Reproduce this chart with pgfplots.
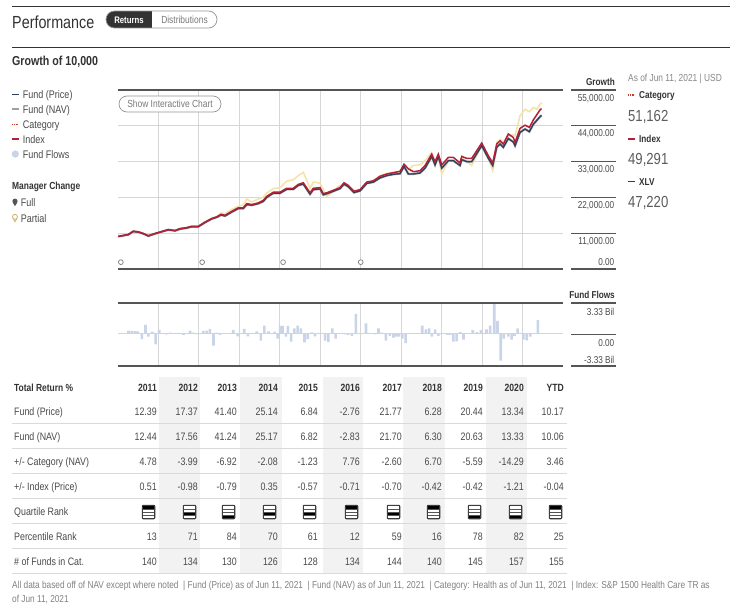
\documentclass[border=0pt]{standalone}
\usepackage{pgfplots}
\pgfplotsset{compat=1.18}
\usepackage{fontspec}
\IfFontExistsTF{Liberation Sans Narrow}{\setmainfont{Liberation Sans Narrow}}{\setmainfont{Liberation Sans}[FakeStretch=0.82]}
\definecolor{cFund}{HTML}{2F3E5A}
\definecolor{cNav}{HTML}{A0A0A0}
\definecolor{cCat}{HTML}{F6E2A4}
\definecolor{cIdx}{HTML}{B3203A}
\definecolor{cFlow}{HTML}{C9D4E8}
\definecolor{cGrid}{HTML}{D6D6D6}
\definecolor{cAxis}{HTML}{555555}
\definecolor{cTxt}{HTML}{4A4A4A}
\definecolor{cLight}{HTML}{7A7A7A}
\definecolor{cDark}{HTML}{333333}
\definecolor{cShade}{HTML}{F2F2F2}
\definecolor{cRule}{HTML}{DADADA}
\definecolor{cPin}{HTML}{C8B46A}
\newcommand\fs[1]{\fontsize{#1}{#1}\selectfont}
\tikzset{lt/.style={anchor=base west, inner sep=0pt, text=cTxt},
         rt/.style={anchor=base east, inner sep=0pt, text=cTxt}}
\newcommand\colR{{157,198,237,278,318,360,402,442,483,524,564}}
\newcommand\trow[2]{\foreach \v [count=\i from 0] in {#2}{%
  \pgfmathsetmacro\xr{\colR[\i]}%
  \node[rt, font=\fs{10.8}] at (\xr,#1) {\v};}}

\begin{document}
\begin{tikzpicture}
\begin{scope}[x=1pt,y=-1pt]
\useasboundingbox (0,0) rectangle (737,608);
\fill[white] (0,0) rectangle (737,608);
% header
\draw[cDark, line width=1pt] (12,6) -- (730,6);
\node[lt, text=cDark, font=\fs{17.5}] at (12,28) {Performance};
\begin{scope}
\clip[rounded corners=8.5pt] (106,11) rectangle (217,28);
\fill[cDark] (106,11) rectangle (152,28);
\end{scope}
\draw[cLight!80, line width=0.7pt, rounded corners=8.5pt] (106,11) rectangle (217,28);
\node[anchor=base, inner sep=0pt, text=white, font=\fs{9.5}\bfseries] at (129,23) {Returns};
\node[anchor=base, inner sep=0pt, text=cLight, font=\fs{10.3}] at (184.5,23) {Distributions};
\draw[cDark, line width=1pt] (12,47) -- (730,47);
\node[lt, text=cDark, font=\fs{13}\bfseries] at (12,65) {Growth of 10,000};
% left legend
\draw[cFund, line width=1.6pt] (12,94.3) -- (18.5,94.3);
\node[lt, font=\fs{11}] at (22.7,98.3) {Fund (Price)};
\draw[cNav, line width=1.6pt] (12,109) -- (18.5,109);
\node[lt, font=\fs{11}] at (22.7,113) {Fund (NAV)};
\draw[cIdx!70!orange, line width=1.1pt, dash pattern=on 0.9pt off 0.9pt] (12,124.3) -- (18.5,124.3);
\node[lt, font=\fs{11}] at (22.7,128.3) {Category};
\draw[cIdx, line width=1.8pt] (12,139.3) -- (18.5,139.3);
\node[lt, font=\fs{11}] at (22.7,143.3) {Index};
\fill[cFlow] (15.3,154) circle (3.6);
\node[lt, font=\fs{11}] at (22.7,158) {Fund Flows};
\node[lt, text=cDark, font=\fs{10.3}\bfseries] at (12,189) {Manager Change};
\fill[cAxis] (15,201.2) circle (2.6);
\fill[cAxis] (12.8,202.5) -- (17.2,202.5) -- (15,206.2) -- cycle;
\node[lt, font=\fs{11}] at (20.7,206.5) {Full};
\draw[cPin, line width=0.8pt] (15,216.8) circle (2.5);
\draw[cPin, line width=0.8pt] (13.3,218.6) -- (15,221.8) -- (16.7,218.6);
\node[lt, font=\fs{11}] at (20.7,222) {Partial};
% right growth tick labels
\node[rt, text=cDark, font=\fs{10}\bfseries] at (615,85.3) {Growth};
\draw[cAxis, line width=2.2pt] (571,90) -- (616,90);
\foreach \yy in {125,161,197,233} {\draw[cAxis, line width=0.8pt] (571,\yy) -- (616,\yy);}
\draw[cAxis, line width=2.2pt] (571,269) -- (616,269);
\node[rt, font=\fs{10}] at (614.5,101) {55,000.00};
\node[rt, font=\fs{10}] at (614.5,136.3) {44,000.00};
\node[rt, font=\fs{10}] at (614.5,172.6) {33,000.00};
\node[rt, font=\fs{10}] at (614.5,208.6) {22,000.00};
\node[rt, font=\fs{10}] at (614.5,244.6) {11,000.00};
\node[rt, font=\fs{10}] at (614.5,265.3) {0.00};
% right panel
\node[lt, text=cLight!90, font=\fs{10.2}] at (628,81.6) {As of Jun 11, 2021 | USD};
\draw[cIdx!70!orange, line width=1.1pt, dash pattern=on 0.9pt off 0.9pt] (628,95) -- (634.5,95);
\node[lt, text=cDark, font=\fs{10}\bfseries] at (639,98.6) {Category};
\node[lt, text=cTxt!90, font=\fs{16}] at (628,121) {51,162};
\draw[cIdx, line width=1.2pt] (628,139) -- (634.5,139);
\node[lt, text=cDark, font=\fs{10}\bfseries] at (639,142.6) {Index};
\node[lt, text=cTxt!90, font=\fs{16}] at (628,164.3) {49,291};
\draw[cFund, line width=1.2pt] (628,181.7) -- (634.5,181.7);
\node[lt, text=cDark, font=\fs{10}\bfseries] at (639,185.3) {XLV};
\node[lt, text=cTxt!90, font=\fs{16}] at (628,207.3) {47,220};
% fund flows right labels
\node[rt, text=cDark, font=\fs{10}\bfseries] at (615,298) {Fund Flows};
\draw[cAxis, line width=2.2pt] (571,303) -- (616,303);
\draw[cAxis, line width=0.8pt] (571,334) -- (616,334);
\draw[cAxis, line width=2.2pt] (571,366) -- (616,366);
\node[rt, font=\fs{10}] at (614.5,315.3) {3.33 Bil};
\node[rt, font=\fs{10}] at (614.5,346) {0.00};
\node[rt, font=\fs{10}] at (614.5,363.6) {-3.33 Bil};
% table shading
\foreach \a/\b in {159/200,240/282,323/363,403/445,486/527} {\fill[cShade] (\a,377) rectangle (\b,573);}
\foreach \yy in {423.3,448.3,473.3,498.3,523.3,548.3,573.3} {\draw[cRule, line width=0.8pt] (12,\yy) -- (567,\yy);}
% table header
\node[lt, text=cDark, font=\fs{10.3}\bfseries] at (14,391.8) {Total Return \%};
\foreach \v [count=\i from 0] in {2011,2012,2013,2014,2015,2016,2017,2018,2019,2020,YTD}{%
  \pgfmathsetmacro\xr{\colR[\i]}%
  \node[rt, text=cDark, font=\fs{10.5}\bfseries] at (\xr,391.8) {\v};}
\node[lt, font=\fs{10.8}] at (14,415.6) {Fund (Price)};
\node[lt, font=\fs{10.8}] at (14,440.6) {Fund (NAV)};
\node[lt, font=\fs{10.8}] at (14,465.6) {+/- Category (NAV)};
\node[lt, font=\fs{10.8}] at (14,490.6) {+/- Index (Price)};
\node[lt, font=\fs{10.8}] at (14,515.6) {Quartile Rank};
\node[lt, font=\fs{10.8}] at (14,540.6) {Percentile Rank};
\node[lt, font=\fs{10.8}] at (14,565.6) {\# of Funds in Cat.};
\trow{415.6}{12.39,17.37,41.40,25.14,6.84,-2.76,21.77,6.28,20.44,13.34,10.17}
\trow{440.6}{12.44,17.56,41.24,25.17,6.82,-2.83,21.70,6.30,20.63,13.33,10.06}
\trow{465.6}{4.78,-3.99,-6.92,-2.08,-1.23,7.76,-2.60,6.70,-5.59,-14.29,3.46}
\trow{490.6}{0.51,-0.98,-0.79,0.35,-0.57,-0.71,-0.70,-0.42,-0.42,-1.21,-0.04}
\trow{540.6}{13,71,84,70,61,12,59,16,78,82,25}
\trow{565.6}{140,134,130,126,128,134,144,140,145,157,155}
% quartile icons
\foreach \q [count=\i from 0] in {1,3,4,3,3,1,3,1,4,4,1}{%
  \pgfmathsetmacro\xc{\colR[\i]-8.5}%
  \foreach \k in {1,2,3,4}{%
    \ifnum\k=\q \def\bandfill{black}\else\def\bandfill{white}\fi
    \filldraw[draw=cAxis, fill=\bandfill, line width=0.5pt] (\xc-6,505.5+3.25*\k-3.25) rectangle (\xc+6,505.5+3.25*\k);}
  \draw[cDark, line width=0.9pt, rounded corners=1.2pt] (\xc-6.3,505.2) rectangle (\xc+6.3,518.8);}
% footer
\node[lt, text=cLight!95, font=\fs{10.1}] at (12,588) {All data based off of NAV except where noted \ | Fund (Price) as of Jun 11, 2021 \ | Fund (NAV) as of Jun 11, 2021 \ | Category: Health as of Jun 11, 2021 \ | Index: S\&P 1500 Health Care TR as};
\node[lt, text=cLight!95, font=\fs{10.1}] at (12,602) {of Jun 11, 2021};
\end{scope}

% ---------------- growth chart
\begin{axis}[
  at={(118pt,-269pt)}, anchor=south west,
  scale only axis, width=445pt, height=179pt,
  xmin=2011, xmax=2022, ymin=0, ymax=55000,
  xtick={2012,2013,...,2021}, ytick={11000,22000,33000,44000},
  scaled ticks=false, xticklabels={}, yticklabels={},
  ticklabel style={opacity=0},
  major tick length=0pt,
  grid=major, grid style={cGrid, line width=0.9pt},
  axis line style={draw=none},
  clip=false,
]
\addplot[cCat, line width=1.5pt, mark=none] coordinates {
(2011.007,10000) (2011.255,10700) (2011.378,11700) (2011.502,11500) (2011.625,10900) (2011.749,10300) (2011.915,10700) (2012.080,11500) (2012.244,12100) (2012.409,11900) (2012.533,12500) (2012.698,12800) (2012.822,13200) (2012.985,13200) (2013.151,14400) (2013.316,15500) (2013.440,16100) (2013.546,17200) (2013.645,17000) (2013.811,18300) (2013.974,19300) (2014.098,19700) (2014.182,21500) (2014.305,20600) (2014.468,21500) (2014.592,22100) (2014.676,23300) (2014.839,24700) (2015.005,25000) (2015.171,27000) (2015.334,27400) (2015.457,28700) (2015.581,29700) (2015.747,24800) (2015.828,26700) (2015.994,26400) (2016.160,22300) (2016.240,23000) (2016.365,24400) (2016.488,25700) (2016.587,25600) (2016.693,25400) (2016.834,23300) (2016.983,24300) (2017.148,26700) (2017.312,27200) (2017.477,28600) (2017.643,29300) (2017.806,29700) (2017.972,30100) (2018.071,31800) (2018.177,30500) (2018.300,31800) (2018.466,32000) (2018.590,33300) (2018.755,35800) (2018.837,31800) (2018.918,34300) (2019.003,29200) (2019.166,33300) (2019.289,33300) (2019.455,31800) (2019.497,34300) (2019.621,33000) (2019.744,31800) (2019.991,38100) (2020.155,34000) (2020.263,30200) (2020.362,38900) (2020.444,39800) (2020.525,39000) (2020.649,40900) (2020.773,41200) (2020.815,40900) (2020.938,47100) (2021.062,49100) (2021.168,48300) (2021.267,49600) (2021.350,49100) (2021.470,51162)};
\addplot[cNav, line width=2.2pt, mark=none] coordinates {
(2011.007,10000) (2011.255,10550) (2011.378,11550) (2011.502,11350) (2011.625,10850) (2011.749,10150) (2011.915,10850) (2012.080,11450) (2012.244,12050) (2012.409,11750) (2012.533,12300) (2012.698,12600) (2012.822,13000) (2012.985,13000) (2013.151,14300) (2013.316,15400) (2013.440,15900) (2013.546,16600) (2013.645,16300) (2013.811,17500) (2013.974,18600) (2014.098,18600) (2014.182,19800) (2014.305,19600) (2014.468,20100) (2014.592,20800) (2014.676,22000) (2014.839,23300) (2015.005,23300) (2015.171,24500) (2015.334,24500) (2015.457,25700) (2015.581,26100) (2015.747,23000) (2015.828,24400) (2015.994,24600) (2016.075,22800) (2016.199,23300) (2016.365,24100) (2016.488,24700) (2016.587,26100) (2016.693,25300) (2016.834,23500) (2016.983,24000) (2017.148,26300) (2017.312,26700) (2017.477,28000) (2017.643,28700) (2017.806,29100) (2017.972,29300) (2018.071,31500) (2018.177,29200) (2018.300,29200) (2018.466,29500) (2018.590,31000) (2018.755,34600) (2018.837,32000) (2018.918,34600) (2019.003,31000) (2019.166,33300) (2019.289,33300) (2019.455,31800) (2019.497,33600) (2019.621,33000) (2019.744,33000) (2019.991,37900) (2020.155,34000) (2020.263,31800) (2020.362,37400) (2020.444,38400) (2020.525,37400) (2020.649,40100) (2020.773,39000) (2020.815,37900) (2020.938,42000) (2021.062,43000) (2021.168,42200) (2021.267,44500) (2021.433,46800) (2021.470,47220)};
\addplot[cFund, line width=1.3pt, mark=none] coordinates {
(2011.007,10000) (2011.255,10550) (2011.378,11550) (2011.502,11350) (2011.625,10850) (2011.749,10150) (2011.915,10850) (2012.080,11450) (2012.244,12050) (2012.409,11750) (2012.533,12300) (2012.698,12600) (2012.822,13000) (2012.985,13000) (2013.151,14300) (2013.316,15400) (2013.440,15900) (2013.546,16600) (2013.645,16300) (2013.811,17500) (2013.974,18600) (2014.098,18600) (2014.182,19800) (2014.305,19600) (2014.468,20100) (2014.592,20800) (2014.676,22000) (2014.839,23300) (2015.005,23300) (2015.171,24500) (2015.334,24500) (2015.457,25700) (2015.581,26100) (2015.747,23000) (2015.828,24400) (2015.994,24600) (2016.075,22800) (2016.199,23300) (2016.365,24100) (2016.488,24700) (2016.587,26100) (2016.693,25300) (2016.834,23500) (2016.983,24000) (2017.148,26300) (2017.312,26700) (2017.477,28000) (2017.643,28700) (2017.806,29100) (2017.972,29300) (2018.071,31500) (2018.177,29200) (2018.300,29200) (2018.466,29500) (2018.590,31000) (2018.755,34600) (2018.837,32000) (2018.918,34600) (2019.003,31000) (2019.166,33300) (2019.289,33300) (2019.455,31800) (2019.497,33600) (2019.621,33000) (2019.744,33000) (2019.991,37900) (2020.155,34000) (2020.263,31800) (2020.362,37400) (2020.444,38400) (2020.525,37400) (2020.649,40100) (2020.773,39000) (2020.815,37900) (2020.938,42000) (2021.062,43000) (2021.168,42200) (2021.267,44500) (2021.433,46800) (2021.470,47220)};
\addplot[cIdx, line width=1.5pt, mark=none] coordinates {
(2011.007,10000) (2011.255,10600) (2011.378,11600) (2011.502,11400) (2011.625,10900) (2011.749,10200) (2011.915,10900) (2012.080,11500) (2012.244,12100) (2012.409,11800) (2012.533,12400) (2012.698,12700) (2012.822,13100) (2012.985,13100) (2013.151,14400) (2013.316,15500) (2013.440,16000) (2013.546,16800) (2013.645,16500) (2013.811,17700) (2013.974,18800) (2014.098,18800) (2014.182,20100) (2014.305,19800) (2014.468,20300) (2014.592,21100) (2014.676,22300) (2014.839,23600) (2015.005,23600) (2015.171,24800) (2015.334,24800) (2015.457,26000) (2015.581,26500) (2015.747,23400) (2015.828,24800) (2015.994,25000) (2016.075,23100) (2016.199,23600) (2016.365,24400) (2016.488,25000) (2016.587,26500) (2016.693,25700) (2016.834,23900) (2016.983,24400) (2017.148,26700) (2017.312,27100) (2017.477,28500) (2017.643,29200) (2017.806,29600) (2017.972,30000) (2018.071,32200) (2018.177,30800) (2018.300,29900) (2018.466,30200) (2018.590,31800) (2018.755,35300) (2018.837,33000) (2018.918,35300) (2019.003,32000) (2019.166,34300) (2019.289,34300) (2019.455,32600) (2019.497,34600) (2019.621,34000) (2019.744,34000) (2019.991,38700) (2020.155,34800) (2020.263,32600) (2020.362,38400) (2020.444,39400) (2020.525,38400) (2020.649,41500) (2020.773,40400) (2020.815,38900) (2020.938,43200) (2021.062,44200) (2021.168,43500) (2021.267,45800) (2021.433,48900) (2021.470,49291)};
\addplot[only marks, mark=*, mark size=2.4pt, mark options={fill=white, draw=cLight, line width=0.7pt}] coordinates {(2011.07,2100) (2013.08,2100) (2015.08,2100) (2017.00,2100)};
\draw[cAxis, line width=2.2pt] (rel axis cs:0,1) -- (rel axis cs:1,1);
\draw[cAxis, line width=2.2pt] (rel axis cs:0,0) -- (rel axis cs:1,0);
\end{axis}

% ---------------- fund flows
\begin{axis}[
  at={(118pt,-366pt)}, anchor=south west,
  scale only axis, width=445pt, height=63pt,
  xmin=2011, xmax=2022, ymin=-3.45, ymax=3.33,
  xtick={2012,2013,...,2021}, ytick={0},
  scaled ticks=false, xticklabels={}, yticklabels={},
  ticklabel style={opacity=0},
  major tick length=0pt,
  grid=major, grid style={cGrid, line width=0.9pt},
  axis line style={draw=none},
  clip=false,
]
\addplot[ybar, bar width=2.6pt, fill=cFlow, draw=none] coordinates {
(2011.26,0.36) (2011.34,0.33) (2011.42,0.30) (2011.49,0.28) (2011.59,-0.57) (2011.68,0.97) (2011.75,-0.29) (2011.85,0.25) (2011.93,-1.11) (2012.02,0.43) (2012.12,0.10) (2012.20,-0.05) (2012.29,0.15) (2012.37,0.05) (2012.45,0.12) (2012.53,0.10) (2012.62,-0.10) (2012.70,0.08) (2012.78,0.35) (2012.86,0.15) (2012.95,-0.05) (2013.03,0.10) (2013.11,0.32) (2013.19,0.35) (2013.27,0.54) (2013.36,-1.25) (2013.44,0.15) (2013.52,-0.10) (2013.60,0.05) (2013.69,0.03) (2013.77,0.05) (2013.85,0.43) (2013.96,-0.25) (2014.04,0.05) (2014.12,0.54) (2014.21,-0.25) (2014.32,0.10) (2014.43,0.29) (2014.53,-0.72) (2014.62,0.90) (2014.72,0.29) (2014.80,0.05) (2014.87,0.25) (2014.95,-0.50) (2015.01,0.86) (2015.07,0.86) (2015.15,-0.30) (2015.20,0.86) (2015.28,-0.82) (2015.36,0.61) (2015.44,0.90) (2015.52,0.60) (2015.61,-0.90) (2015.69,-0.57) (2015.79,0.18) (2015.87,-0.25) (2015.95,0.05) (2016.02,0.10) (2016.12,-0.72) (2016.20,-0.86) (2016.30,0.60) (2016.38,-0.50) (2016.46,0.05) (2016.53,0.10) (2016.61,-0.05) (2016.69,-0.10) (2016.78,-0.20) (2016.88,2.15) (2016.98,0.05) (2017.05,0.03) (2017.13,1.15) (2017.19,0.05) (2017.27,0.03) (2017.36,-0.05) (2017.44,0.61) (2017.52,0.15) (2017.62,-0.72) (2017.72,-0.20) (2017.81,-0.40) (2017.88,-0.30) (2017.95,-0.30) (2018.03,-0.50) (2018.11,-1.00) (2018.22,0.05) (2018.30,0.05) (2018.37,0.10) (2018.44,0.05) (2018.52,0.90) (2018.61,0.50) (2018.69,0.60) (2018.76,-0.30) (2018.84,0.50) (2018.92,-0.20) (2019.00,0.05) (2019.08,0.05) (2019.14,-0.10) (2019.21,-0.10) (2019.29,-0.82) (2019.37,-0.80) (2019.46,0.20) (2019.54,-0.60) (2019.61,0.05) (2019.68,0.10) (2019.77,0.40) (2019.87,0.20) (2019.97,0.40) (2020.04,0.10) (2020.11,0.50) (2020.20,0.90) (2020.30,3.30) (2020.38,1.40) (2020.46,-2.86) (2020.54,-0.50) (2020.65,-0.30) (2020.73,-0.60) (2020.80,-0.20) (2020.88,0.60) (2020.95,0.10) (2021.02,-0.60) (2021.10,-0.70) (2021.19,-0.30) (2021.27,0.05) (2021.38,1.50)};
\draw[cAxis, line width=2.2pt] (rel axis cs:0,1) -- (rel axis cs:1,1);
\draw[cAxis, line width=2.2pt] (rel axis cs:0,0) -- (rel axis cs:1,0);
\end{axis}

\begin{scope}[x=1pt,y=-1pt]
\draw[cLight!80, line width=0.7pt, rounded corners=8pt, fill=white] (119,96) rectangle (221,112);
\node[anchor=base, inner sep=0pt, text=cLight, font=\fs{10.3}] at (170,107.7) {Show Interactive Chart};
\end{scope}
\end{tikzpicture}
\end{document}
